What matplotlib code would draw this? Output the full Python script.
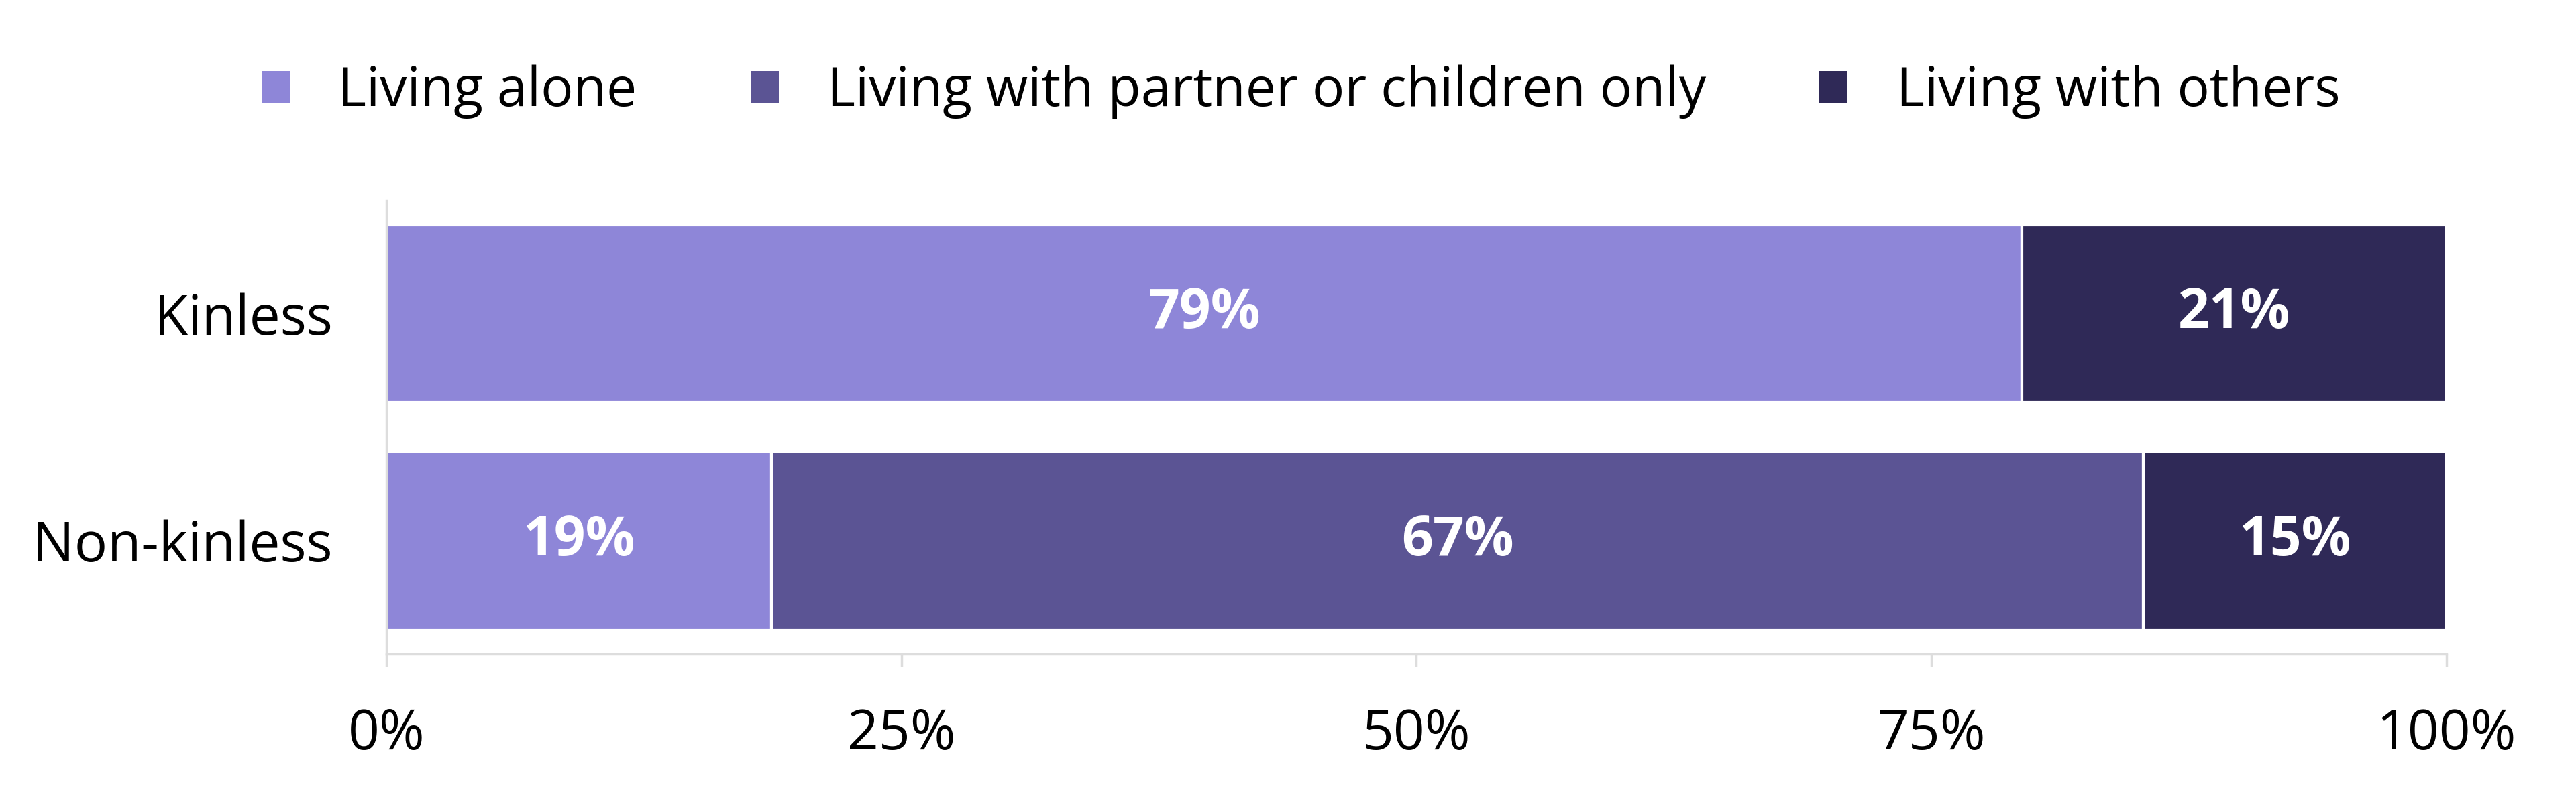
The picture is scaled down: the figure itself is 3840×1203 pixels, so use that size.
import matplotlib
matplotlib.use("Agg")
import matplotlib.pyplot as plt
from matplotlib.patches import Patch
import numpy as np

plt.rcParams['font.family'] = ['Open Sans', 'DejaVu Sans']

groups = ["Non-kinless", "Kinless"]
series = ["Living alone", "Living with partner or children only", "Living with others"]
alone = [18.7, 79.4]
partner = [66.6, 0.0]
others = [14.7, 20.6]
colors = ["#8E86D8", "#5B5494", "#2F2957"]

fig = plt.figure(figsize=(38.4, 12.03), dpi=100)
ax = fig.add_axes([0.15, 0.1895, 0.7997, 0.562])

y = np.arange(len(groups))
left = np.zeros(len(groups))
for name, vals, col in zip(series, [alone, partner, others], colors):
    vals = np.array(vals)
    bars = ax.barh(y, vals, left=left, height=0.784, color=col,
                   edgecolor="white", linewidth=3)
    for b, v in zip(bars, vals):
        if v > 0:
            ax.text(b.get_x() + b.get_width() / 2, b.get_y() + b.get_height() / 2,
                    f"{round(v)}%", ha="center", va="center", color="white",
                    fontsize=59, fontweight="bold")
    left += vals

ax.set_xlim(0, 100)
ax.set_ylim(-0.5, 1.5)
ax.set_xticks([0, 25, 50, 75, 100])
ax.set_xticklabels(["0%", "25%", "50%", "75%", "100%"])
ax.set_yticks(y)
ax.set_yticklabels(groups)

for s in ["top", "right"]:
    ax.spines[s].set_visible(False)
for s in ["left", "bottom"]:
    ax.spines[s].set_color("#DDDDDD")
    ax.spines[s].set_linewidth(2.5)
ax.tick_params(axis="x", length=14, width=2.5, color="#DDDDDD", labelsize=59, pad=43)
ax.tick_params(axis="y", length=0, labelsize=59, pad=58)

handles = [Patch(facecolor=c, edgecolor="none") for c in colors]
fig.legend(handles, series, loc="center", bbox_to_anchor=(0.505, 0.886), ncol=3,
           frameon=False, fontsize=58, handlelength=0.52, handleheight=0.52,
           handletextpad=0.9, columnspacing=2.1)

fig.savefig("out.png", dpi=100)
